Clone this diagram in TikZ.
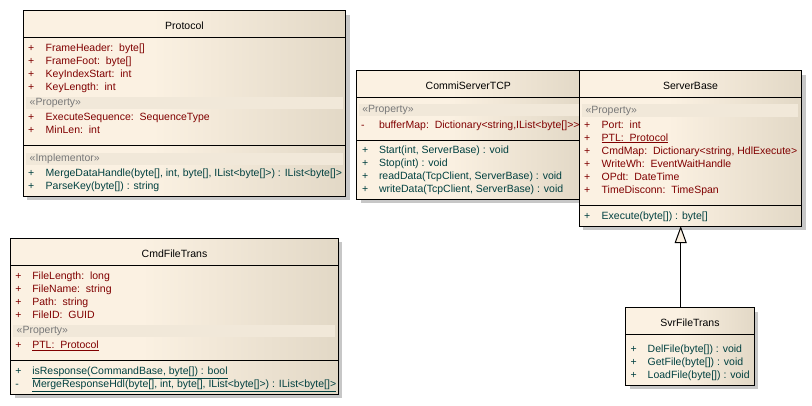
\documentclass[tikz,border=0pt]{standalone}
\usepackage{fontspec}
\setmainfont{Liberation Sans}
\usetikzlibrary{arrows.meta,shadows}

\definecolor{umlcream}{RGB}{251,241,226}
\definecolor{umltan}{RGB}{226,216,198}
\definecolor{umlband}{RGB}{241,232,217}
\definecolor{umlred}{RGB}{128,0,0}
\definecolor{umlteal}{RGB}{0,64,64}
\definecolor{umlgray}{RGB}{120,120,120}
\pgfdeclarehorizontalshading{classfill}{100bp}{color(0bp)=(umlcream); color(25bp)=(umlcream); color(45bp)=(umlcream); color(75bp)=(umltan); color(100bp)=(umltan)}

\begin{document}
\begin{tikzpicture}[x=1pt, y=-1pt,
	every node/.style={font={\fontsize{10.5}{12}\selectfont}, inner sep=0pt, outer sep=0pt},
	classbox/.style={draw, line width=1pt, anchor=north west, shading=classfill,
		drop shadow={shadow xshift=4pt, shadow yshift=-4pt, fill=black!22, opacity=1}},
	divider/.style={line width=1pt},
	band/.style={fill=umlband},
	title/.style={anchor=base, text=black},
	attr/.style={anchor=base west, text=umlred},
	oper/.style={anchor=base west, text=umlteal},
	stereo/.style={anchor=west, text=umlgray},
	generalization/.style={line width=1pt, -{Triangle[length=17pt, width=12pt, fill=umlcream]}}]
	\useasboundingbox (0,0) rectangle (812,405);

	% Protocol
	\node[classbox, minimum width=322.4pt, minimum height=185.3pt] (protocol) at (23.3,10.7) {};
	\node[title] (protocol-t) at (184.5,29.5) {Protocol};
	\draw[divider] (protocol.west |- 0,37.3) -- (protocol.east |- 0,37.3);
	\foreach \s/\t [count=\i from 0] in {+/{FrameHeader:~~byte[]}, +/{FrameFoot:~~byte[]}, +/{KeyIndexStart:~~int}, +/{KeyLength:~~int}}
		{\node[attr] (protocol-s\i) at (28,{51.5+13*\i}) {\s}; \node[attr] (protocol-a\i) at (45.7,{51.5+13*\i}) {\t};}
	\fill[band] (26.3,96.7) rectangle (343.3,109.3);
	\node[stereo] (protocol-st1) at (29.7,103) {«Property»};
	\foreach \s/\t [count=\i from 0] in {+/{ExecuteSequence:~~SequenceType}, +/{MinLen:~~int}}
		{\node[attr] (protocol-s\i) at (28,{120.5+13*\i}) {\s}; \node[attr] (protocol-p\i) at (45.7,{120.5+13*\i}) {\t};}
	\draw[divider] (protocol.west |- 0,145.3) -- (protocol.east |- 0,145.3);
	\fill[band] (26.3,152.7) rectangle (343.3,165);
	\node[stereo] (protocol-st2) at (29.7,159) {«Implementor»};
	\foreach \s/\t [count=\i from 0] in {+/{MergeDataHandle(byte[], int, byte[], IList<byte[]>) : IList<byte[]>}, +/{ParseKey(byte[]) : string}}
		{\node[oper] (protocol-o\i) at (28,{176.5+13*\i}) {\s}; \node[oper] (protocol-m\i) at (45.7,{176.5+13*\i}) {\t};}

	% CmdFileTrans
	\node[classbox, minimum width=327.6pt, minimum height=155.7pt] (cmdfile) at (10.7,238.3) {};
	\node[title] (cmdfile-t) at (174.5,257.1) {CmdFileTrans};
	\draw[divider] (cmdfile.west |- 0,265) -- (cmdfile.east |- 0,265);
	\foreach \s/\t [count=\i from 0] in {+/{FileLength:~~long}, +/{FileName:~~string}, +/{Path:~~string}, +/{FileID:~~GUID}}
		{\node[attr] (cmdfile-s\i) at (15.3,{279.5+13*\i}) {\s}; \node[attr] (cmdfile-a\i) at (32.3,{279.5+13*\i}) {\t};}
	\fill[band] (13.3,325) rectangle (335,337.3);
	\node[stereo] (cmdfile-st) at (16.7,331) {«Property»};
	\node[attr] (cmdfile-ps) at (15.3,348.8) {+};
	\node[attr] (cmdfile-p) at (32.3,348.8) {\underline{PTL:~~Protocol}};
	\draw[divider] (cmdfile.west |- 0,360) -- (cmdfile.east |- 0,360);
	\foreach \s/\t [count=\i from 0] in {+/{isResponse(CommandBase, byte[]) : bool}, -/{MergeResponseHdl(byte[], int, byte[], IList<byte[]>) : IList<byte[]>}}
		{\node[oper] (cmdfile-o\i) at (15.3,{374.5+13*\i}) {\s}; \node[oper] (cmdfile-m\i) at (32.3,{374.5+13*\i}) {\underline{\t}};}

	% CommiServerTCP
	\node[classbox, minimum width=225.3pt, minimum height=128.6pt] (commi) at (356.7,70.7) {};
	\node[title] (commi-t) at (468.3,89.5) {CommiServerTCP};
	\draw[divider] (commi.west |- 0,97.3) -- (commi.east |- 0,97.3);
	\fill[band] (359.3,104.3) rectangle (580,116);
	\node[stereo] (commi-st) at (362.3,110) {«Property»};
	\node[attr] (commi-s0) at (361,128.1) {-};
	\node[attr] (commi-a0) at (379,128.1) {bufferMap:~~Dictionary<string,IList<byte[]>{}>};
	\draw[divider] (commi.west |- 0,140) -- (commi.east |- 0,140);
	\foreach \s/\t [count=\i from 0] in {+/{Start(int, ServerBase) : void}, +/{Stop(int) : void}, +/{readData(TcpClient, ServerBase) : void}, +/{writeData(TcpClient, ServerBase) : void}}
		{\node[oper] (commi-o\i) at (362,{153.8+13*\i}) {\s}; \node[oper] (commi-m\i) at (379,{153.8+13*\i}) {\t};}

	% ServerBase
	\node[classbox, minimum width=222.4pt, minimum height=155.3pt] (serverbase) at (579.3,70.7) {};
	\node[title] (serverbase-t) at (690.5,89.5) {ServerBase};
	\draw[divider] (serverbase.west |- 0,97.3) -- (serverbase.east |- 0,97.3);
	\fill[band] (582.3,104.3) rectangle (797.7,117);
	\node[stereo] (serverbase-st) at (585.5,110.5) {«Property»};
	\foreach \s/\t [count=\i from 0] in {+/{Port:~~int}, +/{\underline{PTL:~~Protocol}}, +/{CmdMap:~~Dictionary<string, HdlExecute>}, +/{WriteWh:~~EventWaitHandle}, +/{OPdt:~~DateTime}, +/{TimeDisconn:~~TimeSpan}}
		{\node[attr] (serverbase-s\i) at (584,{128.1+13*\i}) {\s}; \node[attr] (serverbase-a\i) at (601.7,{128.1+13*\i}) {\t};}
	\draw[divider] (serverbase.west |- 0,205.7) -- (serverbase.east |- 0,205.7);
	\node[oper] (serverbase-o0) at (584,219.1) {+};
	\node[oper] (serverbase-m0) at (601.7,219.1) {Execute(byte[]) : byte[]};

	% SvrFileTrans
	\node[classbox, minimum width=128.6pt, minimum height=77.3pt] (svrfile) at (625.7,307.7) {};
	\node[title] (svrfile-t) at (690,326.1) {SvrFileTrans};
	\draw[divider] (svrfile.west |- 0,334.3) -- (svrfile.east |- 0,334.3);
	\foreach \s/\t [count=\i from 0] in {+/{DelFile(byte[]) : void}, +/{GetFile(byte[]) : void}, +/{LoadFile(byte[]) : void}}
		{\node[oper] (svrfile-o\i) at (630.7,{352.1+13*\i}) {\s}; \node[oper] (svrfile-m\i) at (647.7,{352.1+13*\i}) {\t};}

	% generalization
	\coordinate (svrfile-top) at ([xshift=-9.3pt]svrfile.north);
	\draw[generalization] (svrfile-top) -- (svrfile-top |- serverbase.south);
\end{tikzpicture}
\end{document}
